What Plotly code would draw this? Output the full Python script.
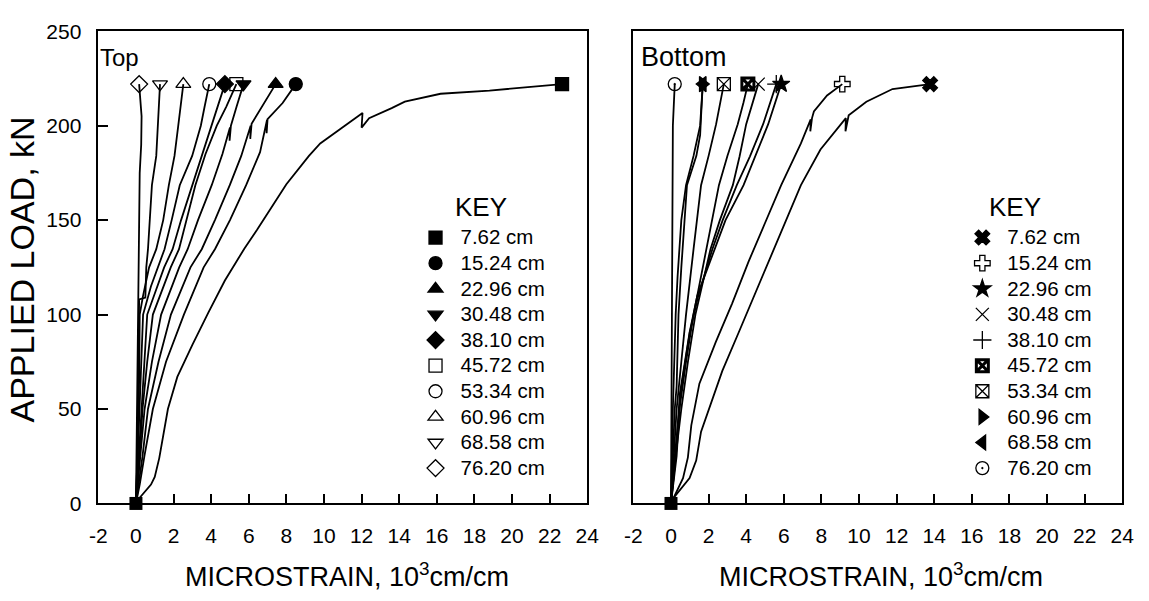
import plotly.graph_objects as go

W, H = 1149, 601
FONT = "Liberation Sans, Arial, sans-serif"

# ---------------- data: Top gauges (strain in 10^3 cm/cm, load in kN) -------------
labels = ["7.62 cm", "15.24 cm", "22.96 cm", "30.48 cm", "38.10 cm",
          "45.72 cm", "53.34 cm", "60.96 cm", "68.58 cm", "76.20 cm"]

xtick_vals = [-2, 0, 2, 4, 6, 8, 10, 12, 14, 16, 18, 20, 22, 24]
xtick_text = ["-2", "0", "2", "4", "6", "8", "10", "12", "14", "16", "18", "20", "22", "24"]
ytick_vals = [0, 50, 100, 150, 200, 250]

t762_x = [0, 0.2, 0.8, 1.0, 1.24, 1.5, 1.7, 2.2, 3.0, 3.85, 4.73, 5.77, 6.45, 8.0, 9.2, 9.8, 11.2, 12.05, 12.0, 12.4, 13.6, 14.3, 16.2, 18.8, 22.66]
t762_y = [0, 3, 10, 14, 24, 40, 50, 67, 84, 101, 118, 135, 145, 169, 184, 190.6, 200.8, 206.7, 199, 204, 209.3, 212.7, 216.9, 218.6, 222]
t1524_x = [0, 0.2, 0.45, 0.9, 1.6, 2.55, 3.6, 4.2, 5.0, 5.86, 6.6, 6.97, 6.95, 7.0, 7.8, 8.5]
t1524_y = [0, 10, 25, 50, 75, 100, 125, 134.6, 150, 168.5, 186, 203, 196, 203.5, 212, 222]
t2296_x = [0, 0.15, 0.35, 0.64, 1.2, 1.86, 2.9, 3.5, 4.2, 4.99, 5.6, 6.1, 6.08, 6.15, 6.7, 7.43]
t2296_y = [0, 10, 25, 50, 75, 100, 125, 134.6, 150, 168.5, 184, 200, 193, 201, 210, 222]
t3048_x = [0, 0.1, 0.25, 0.46, 0.85, 1.34, 2.3, 2.75, 3.3, 4.03, 4.6, 5.0, 4.98, 5.05, 5.35, 5.72]
t3048_y = [0, 10, 25, 50, 75, 100, 125, 134.6, 150, 168.5, 185, 199, 192, 200, 210, 222]
t3810_x = [0, 0.15, 0.29, 0.45, 0.6, 1.5, 1.95, 2.4, 3.0, 3.5, 4.0, 4.35, 4.73]
t3810_y = [0, 25, 50, 75, 100, 125, 134.6, 150, 168.5, 185, 200, 210, 222]
t4572_x = [0, 0.2, 0.35, 0.6, 0.9, 1.85, 2.29, 2.7, 3.16, 3.7, 4.3, 4.8, 5.34]
t4572_y = [0, 25, 50, 75, 100, 125, 134.6, 150, 168.5, 185, 200, 210, 222]
t5334_x = [0, 0.1, 0.2, 0.3, 0.38, 0.8, 1.15, 1.52, 1.9, 2.33, 2.99, 3.45, 3.65, 3.9]
t5334_y = [0, 25, 50, 75, 100, 115, 125, 134.6, 150, 168.5, 184, 200, 210, 222]
t6096_x = [0, 0.08, 0.15, 0.18, 0.2, 0.38, 0.7, 1.08, 1.45, 1.75, 2.05, 2.25, 2.52]
t6096_y = [0, 25, 50, 75, 100, 110, 125, 134.6, 150, 168.5, 184, 200, 222]
t6858_x = [0, 0.08, 0.1, 0.14, 0.17, 0.5, 0.55, 0.64, 0.72, 0.85, 1.08, 1.15, 1.28]
t6858_y = [0, 25, 50, 75, 108, 109, 125, 134.6, 150, 168.5, 184, 200, 222]
t7620_x = [0, 0.03, 0.05, 0.1, 0.12, 0.15, 0.2, 0.28, 0.3, 0.17]
t7620_y = [0, 25, 50, 75, 100, 150, 175, 190, 205, 222]

# ---------------- data: Bottom gauges ----------------
b762_x = [0, 0.03, 0.99, 1.34, 1.6, 2.03, 2.73, 3.6, 4.47, 5.34, 6.21, 6.91, 7.95, 8.65, 9.3, 9.28, 9.45, 10.39, 11.78, 13.78]
b762_y = [0, 1.6, 13.4, 22.7, 38, 49.9, 70.2, 90.5, 110.9, 131.2, 151.6, 168.5, 187.4, 195.7, 204, 197, 205.5, 212.7, 219.4, 222]
b1524_x = [0, 0.64, 0.9, 1.08, 1.51, 2.38, 3.25, 4.12, 4.99, 5.86, 6.91, 7.43, 7.41, 7.5, 7.6, 8.3, 9.11]
b1524_y = [0, 13.4, 24.4, 41.3, 63.4, 85.4, 105.8, 127.9, 148.2, 168.5, 190.6, 203.3, 197, 204, 207.5, 216, 222]
b2296_x = [0, 0.25, 0.47, 0.99, 1.4, 2.3, 2.9, 3.86, 4.47, 5.17, 5.86]
b2296_y = [0, 25, 58, 90.5, 110, 134.6, 150, 168.5, 183.8, 200.8, 222]
b3048_x = [0, 0.25, 0.55, 0.9, 1.3, 2.1, 2.6, 3.29, 3.65, 4.0, 4.64]
b3048_y = [0, 25, 50, 75, 100, 134.6, 150, 168.5, 183.8, 200.8, 222]
b3810_x = [0, 0.3, 0.5, 1.0, 1.45, 2.2, 2.75, 3.5, 4.2, 4.9, 5.6]
b3810_y = [0, 25, 58, 90.5, 110, 134.6, 150, 168.5, 183.8, 200.8, 222]
b4572_x = [0, 0.2, 0.45, 0.8, 1.2, 1.9, 2.2, 2.55, 3.0, 3.55, 3.85, 4.09]
b4572_y = [0, 25, 50, 75, 100, 134.6, 150, 168.5, 184, 200.8, 212, 222]
b5334_x = [0, 0.15, 0.3, 0.55, 0.8, 1.2, 1.4, 1.6, 2.0, 2.4, 2.81]
b5334_y = [0, 25, 50, 75, 100, 134.6, 150, 168.5, 184, 200.8, 222]
b6096_x = [0, 0.1, 0.2, 0.3, 0.4, 0.55, 0.7, 0.85, 1.35, 1.55, 1.6, 1.69]
b6096_y = [0, 25, 50, 62, 100, 125, 150, 168.5, 184, 195, 205, 222]
b6858_x = [0, 0.05, 0.1, 0.25, 0.35, 0.55, 0.8, 1.2, 1.55, 1.69]
b6858_y = [0, 25, 50, 100, 120, 150, 168.5, 184, 200, 222]
b7620_x = [0, 0.02, 0.03, 0.05, 0.1, 0.2]
b7620_y = [0, 50, 100, 168.5, 200, 222]

top_symbols = ["square", "circle", "triangle-up", "triangle-down", "diamond",
               "square-open", "circle-open", "triangle-up-open", "triangle-down-open", "diamond-open"]
bot_symbols = ["x", "cross-open", "star", "x-thin-open", "cross-thin-open",
               "square-x-open", "square-x-open", "triangle-right", "triangle-left", "circle-open-dot"]

top_series = [(t762_x, t762_y), (t1524_x, t1524_y), (t2296_x, t2296_y), (t3048_x, t3048_y),
              (t3810_x, t3810_y), (t4572_x, t4572_y), (t5334_x, t5334_y), (t6096_x, t6096_y),
              (t6858_x, t6858_y), (t7620_x, t7620_y)]
bot_series = [(b762_x, b762_y), (b1524_x, b1524_y), (b2296_x, b2296_y), (b3048_x, b3048_y),
              (b3810_x, b3810_y), (b4572_x, b4572_y), (b5334_x, b5334_y), (b6096_x, b6096_y),
              (b6858_x, b6858_y), (b7620_x, b7620_y)]

LEG_TEXT = 20.5
fig = go.Figure()


def add_panel(series, symbols, xa, ya, legend):
    for (xs, ys) in series:
        fig.add_trace(go.Scatter(x=xs, y=ys, mode="lines", xaxis=xa, yaxis=ya,
                                 line=dict(color="black", width=1.8),
                                 showlegend=False, hoverinfo="skip"))
    for i, ((xs, ys), sym, lab) in enumerate(zip(series, symbols, labels)):
        ms = dict(symbol=sym, size=13, color="black", line=dict(color="black", width=1.3))
        if sym == "square-x-open" and i == 5:
            ms["line"]["width"] = 3
            ms["size"] = 12
        fig.add_trace(go.Scatter(
            x=[xs[-1]], y=[ys[-1]], mode="markers", xaxis=xa, yaxis=ya, marker=ms,
            name=f'<span style="font-size:{LEG_TEXT}px">{lab}</span>', legend=legend))
    # filled square at the common origin
    xs0, ys0 = series[0]
    fig.add_trace(go.Scatter(x=[xs0[0]], y=[ys0[0]], mode="markers", xaxis=xa, yaxis=ya,
                             marker=dict(symbol="square", size=13, color="black"),
                             showlegend=False, hoverinfo="skip", cliponaxis=False))


add_panel(top_series, top_symbols, "x", "y", "legend")
add_panel(bot_series, bot_symbols, "x2", "y2", "legend2")


# ---------------- layout ----------------
def px_x(p):
    return p / W


def px_y(p):
    return 1 - p / H


x_left = [91, 589]
x_right = [636, 1134]
y_top, y_bot = 20, 511

common = dict(showgrid=False, zeroline=False, showline=True, mirror=True,
              linecolor="black", linewidth=1.5, tickwidth=1.5, tickcolor="black",
              tickfont=dict(family=FONT, size=21, color="black"))

xaxis_opts = dict(range=[-2, 24], tickmode="array", tickvals=xtick_vals, ticktext=xtick_text,
                  ticks="inside", ticklen=10, ticklabelstandoff=13, **common)

leg_common = dict(xanchor="left", yanchor="top", bgcolor="rgba(0,0,0,0)",
                  font=dict(family=FONT, size=17.4, color="black"),
                  itemwidth=40, tracegroupgap=0)

fig.update_layout(
    width=W, height=H,
    margin=dict(l=0, r=0, t=0, b=0),
    paper_bgcolor="white", plot_bgcolor="white",
    font=dict(family=FONT, color="black"),
    xaxis=dict(domain=[px_x(x_left[0]), px_x(x_left[1])], anchor="y", **xaxis_opts),
    yaxis=dict(domain=[px_y(y_bot), px_y(y_top)], range=[0, 250], tickmode="array",
               tickvals=ytick_vals, ticks="inside", ticklen=10, ticklabelstandoff=11,
               anchor="x", **common),
    xaxis2=dict(domain=[px_x(x_right[0]), px_x(x_right[1])], anchor="y2", **xaxis_opts),
    yaxis2=dict(domain=[px_y(y_bot), px_y(y_top)], range=[0, 250], ticks="",
                showticklabels=False, anchor="x2", **common),
    legend=dict(x=px_x(409), y=px_y(216), **leg_common),
    legend2=dict(x=px_x(966), y=px_y(216), **leg_common),
)

annotations = [
    dict(text="Top", x=px_x(91), y=px_y(47), xanchor="left", yanchor="middle",
         font=dict(family=FONT, size=24, color="black")),
    dict(text="Bottom", x=px_x(642), y=px_y(47), xanchor="left", yanchor="middle",
         font=dict(family=FONT, size=27, color="black")),
    dict(text="KEY", x=px_x(481), y=px_y(203), xanchor="center", yanchor="middle",
         font=dict(family=FONT, size=26, color="black")),
    dict(text="KEY", x=px_x(1025), y=px_y(203), xanchor="center", yanchor="middle",
         font=dict(family=FONT, size=26, color="black")),
    dict(text="APPLIED LOAD, kN", x=px_x(13), y=px_y(268), textangle=-90,
         xanchor="center", yanchor="middle", font=dict(family=FONT, size=34, color="black")),
    dict(text="MICROSTRAIN, 10<sup>3</sup>cm/cm", x=px_x(344), y=px_y(585),
         xanchor="center", yanchor="middle", font=dict(family=FONT, size=27, color="black")),
    dict(text="MICROSTRAIN, 10<sup>3</sup>cm/cm", x=px_x(888), y=px_y(585),
         xanchor="center", yanchor="middle", font=dict(family=FONT, size=27, color="black")),
]
for a in annotations:
    a.update(xref="paper", yref="paper", showarrow=False)
fig.update_layout(annotations=annotations)

fig.write_html("out.html")
